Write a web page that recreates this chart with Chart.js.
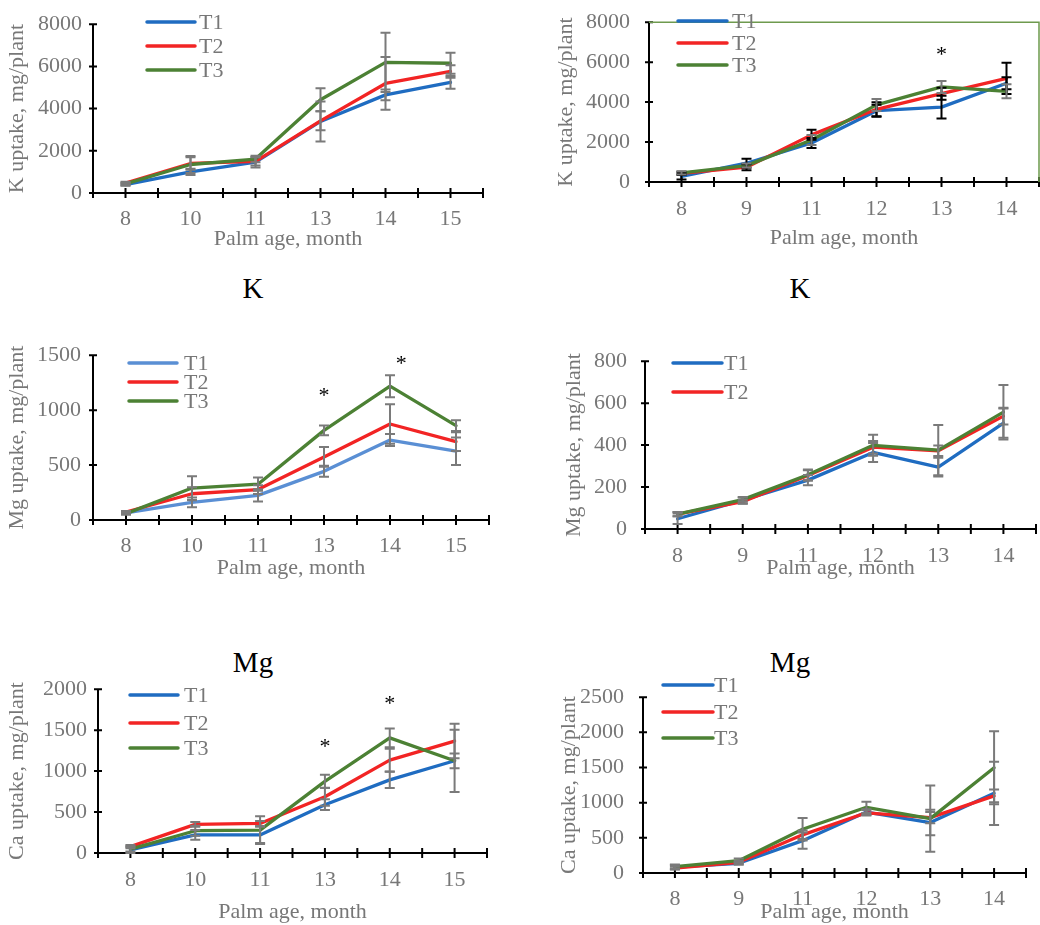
<!DOCTYPE html>
<html><head><meta charset="utf-8">
<script src="https://cdn.jsdelivr.net/npm/chart.js@4.4.0/dist/chart.umd.min.js"></script>
<style>
html,body{margin:0;padding:0;background:#fff;width:1040px;height:925px;overflow:hidden;position:relative}
canvas{position:absolute}
.lbl{position:absolute;font-family:'Liberation Serif','Times New Roman',serif;font-size:29px;color:#000;transform:translate(-50%,-50%);line-height:1;white-space:nowrap}
</style></head><body>
<div class="lbl" style="left:253px;top:288px">K</div>
<div class="lbl" style="left:800px;top:288px">K</div>
<div class="lbl" style="left:253px;top:662px">Mg</div>
<div class="lbl" style="left:790px;top:662px">Mg</div>
<script>
// ---------- data ----------
const seriesNames = ['T1','T2','T3'];
const monthsA = ['8','10','11','13','14','15'];
const monthsB = ['8','9','11','12','13','14'];
const xTitle = 'Palm age, month';

// K, left
const kA_T1 = [400, 1000, 1460, 3390, 4650, 5240];
const kA_T2 = [470, 1400, 1500, 3420, 5190, 5760];
const kA_T3 = [430, 1350, 1610, 4420, 6190, 6150];
const kA_E1 = [60, 150, 250, 950, 250, 300];
const kA_E2 = [60, 300, 200, 450, 1250, 300];
const kA_E3 = [60, 400, 150, 550, 1400, 500];
const kA_yTicks = [0, 2000, 4000, 6000, 8000];

// K, right
const kB_T1 = [280, 940, 1950, 3570, 3750, 4940];
const kB_T2 = [430, 740, 2360, 3640, 4420, 5190];
const kB_T3 = [460, 820, 2100, 3860, 4760, 4540];
const kB_E1 = [150, 230, 250, 300, 570, 300];
const kB_E2 = [80, 150, 250, 350, 300, 780];
const kB_E3 = [80, 100, 250, 300, 300, 350];
const kB_yTicks = [0, 2000, 4000, 6000, 8000];
const kB_stars = [[4, 6150]];

// Mg, left
const mgA_T1 = [64, 160, 224, 443, 728, 626];
const mgA_T2 = [73, 239, 277, 574, 874, 714];
const mgA_T3 = [58, 291, 326, 816, 1218, 859];
const mgA_E1 = [10, 45, 55, 50, 55, 125];
const mgA_E2 = [10, 60, 40, 90, 180, 85];
const mgA_E3 = [10, 108, 60, 45, 100, 50];
const mgA_yTicks = [0, 500, 1000, 1500];
const mgA_stars = [[3, 1090], [4.17, 1387]];

// Mg, right
const mgB_T1 = [49, 137, 233, 365, 295, 505];
const mgB_T2 = [71, 130, 255, 390, 373, 538];
const mgB_T3 = [71, 140, 259, 399, 376, 557];
const mgB_E1 = [25, 15, 25, 45, 45, 70];
const mgB_E2 = [10, 10, 25, 30, 25, 40];
const mgB_E3 = [10, 10, 25, 50, 120, 130];
const mgB_yTicks = [0, 200, 400, 600, 800];

// Ca, left
const caA_T1 = [39, 221, 221, 590, 893, 1126];
const caA_T2 = [78, 350, 361, 687, 1134, 1367];
const caA_T3 = [47, 272, 280, 874, 1406, 1126];
const caA_E1 = [40, 60, 100, 65, 100, 90];
const caA_E2 = [20, 30, 30, 110, 140, 210];
const caA_E3 = [30, 60, 170, 80, 115, 380];
const caA_yTicks = [0, 500, 1000, 1500, 2000];
const caA_stars = [[3, 1251], [4, 1766]];

// Ca, right
const caB_T1 = [83, 138, 460, 866, 718, 1133];
const caB_T2 = [69, 152, 543, 856, 787, 1096];
const caB_T3 = [92, 175, 622, 935, 773, 1496];
const caB_E1 = [30, 20, 115, 40, 180, 450];
const caB_E2 = [20, 20, 60, 40, 80, 90];
const caB_E3 = [30, 30, 160, 80, 470, 520];
const caB_yTicks = [0, 500, 1000, 1500, 2000, 2500];

// ---------- styles ----------
const BLUE = '#1f6cc1', LBLUE = '#5a8fd4', RED = '#f22424', GREEN = '#4c8134';
const GRAY = '#7a7a7a', TXT = '#777777';
const FONT = {family: "'Liberation Serif','Times New Roman',serif", size: 22};

const deco = {
  id: 'deco',
  beforeDatasetsDraw(chart, args, o) {
    const {ctx, chartArea: a, scales: {x, y}} = chart;
    ctx.save();
    ctx.strokeStyle = '#000'; ctx.lineWidth = 2;
    ctx.beginPath();
    ctx.moveTo(a.left, a.top); ctx.lineTo(a.left, a.bottom); ctx.lineTo(a.right, a.bottom);
    y.ticks.forEach(t => { const py = y.getPixelForValue(t.value); ctx.moveTo(a.left - 4, py); ctx.lineTo(a.left + 4, py); });
    const n = x.ticks.length;
    for (let k = 0; k <= 2 * n; k++) {
      const px = x.getPixelForValue(k / 2 - 0.5);
      ctx.moveTo(px, a.bottom - 5); ctx.lineTo(px, a.bottom + 5);
    }
    ctx.stroke();
    if (o.frame) {
      ctx.strokeStyle = o.frame; ctx.lineWidth = 1.5;
      ctx.beginPath(); ctx.moveTo(a.left, a.top); ctx.lineTo(a.right, a.top); ctx.lineTo(a.right, a.bottom); ctx.stroke();
    }
    ctx.restore();
  },
  afterDatasetsDraw(chart, args, o) {
    const {ctx, scales: {x, y}} = chart;
    ctx.save();
    chart.data.datasets.forEach((ds, i) => {
      if (!ds.err) return;
      ctx.strokeStyle = ds.errColor || GRAY; ctx.lineWidth = 2;
      ds.data.forEach((v, j) => {
        const e = ds.err[j]; if (!e) return;
        const px = x.getPixelForValue(j);
        const y1 = y.getPixelForValue(v + e), y2 = y.getPixelForValue(v - e);
        ctx.beginPath();
        ctx.moveTo(px, y1); ctx.lineTo(px, y2);
        ctx.moveTo(px - 5, y1); ctx.lineTo(px + 5, y1);
        ctx.moveTo(px - 5, y2); ctx.lineTo(px + 5, y2);
        ctx.stroke();
      });
    });
    ctx.restore();
  },
  afterDraw(chart, args, o) {
    const {ctx, scales: {x, y}} = chart;
    ctx.save();
    const lg = o.legend;
    chart.data.datasets.slice(0, lg.count).forEach((ds, i) => {
      const ly = lg.ys[i];
      ctx.strokeStyle = ds.borderColor; ctx.lineWidth = 3.5; ctx.lineCap = 'round';
      ctx.beginPath(); ctx.moveTo(lg.x0, ly); ctx.lineTo(lg.x1, ly); ctx.stroke();
      ctx.fillStyle = TXT; ctx.font = FONT.size + 'px ' + FONT.family;
      ctx.textBaseline = 'middle'; ctx.textAlign = 'left';
      ctx.fillText(ds.label, lg.tx, ly + 1);
    });
    (o.stars || []).forEach(s => {
      const px = x.getPixelForValue(s[0]), py = y.getPixelForValue(s[1]);
      ctx.fillStyle = '#000'; ctx.font = '22px ' + FONT.family;
      ctx.textAlign = 'center'; ctx.textBaseline = 'alphabetic';
      ctx.fillText('*', px, py + 2);
    });
    ctx.restore();
  }
};

function ds(label, data, err, color, errColor, order) {
  return {label, data, err, errColor, borderColor: color, backgroundColor: color, borderWidth: 3.3,
          pointRadius: 0, tension: 0, borderJoinStyle: 'round', borderCapStyle: 'round', order};
}

function panel(p) {
  const c = document.createElement('canvas');
  c.width = p.w; c.height = p.h;
  c.style.left = p.left + 'px'; c.style.top = p.top + 'px';
  c.style.width = p.w + 'px'; c.style.height = p.h + 'px';
  document.body.appendChild(c);
  const yt = p.yTicks;
  new Chart(c, {
    type: 'line',
    data: {labels: p.labels, datasets: p.sets},
    plugins: [deco],
    options: {
      responsive: false, animation: false, devicePixelRatio: 1,
      layout: {padding: {left: 0, top: p.padTop, right: p.padRight, bottom: 0}},
      plugins: {legend: {display: false}, tooltip: {enabled: false},
                deco: {legend: p.legend, stars: p.stars, frame: p.frame}},
      scales: {
        x: {type: 'category', offset: true,
            grid: {display: false, drawTicks: false}, border: {display: false},
            ticks: {color: TXT, font: FONT, padding: p.xLabPad, autoSkip: false, maxRotation: 0},
            title: {display: true, text: xTitle, color: TXT, font: FONT, padding: {top: 0, bottom: 0}},
            afterFit(s) { s.height = p.xH; }},
        y: {min: yt[0], max: yt[yt.length - 1],
            grid: {display: false, drawTicks: false}, border: {display: false},
            ticks: {stepSize: yt[1] - yt[0], color: TXT, font: FONT, padding: p.yLabPad,
                    callback: v => String(v)},
            title: {display: true, text: p.yTitle, color: TXT, font: FONT, padding: {top: p.yTitlePad, bottom: 0}},
            afterFit(s) { s.width = p.yW; }}
      }
    }
  });
}

function three(a, b, c, ea, eb, ec, c1, errCols) {
  errCols = errCols || [GRAY, GRAY, GRAY];
  return [ds(seriesNames[0], a, ea, c1 || BLUE, errCols[0], 2),
          ds(seriesNames[1], b, eb, RED, errCols[1], 1),
          ds(seriesNames[2], c, ec, GREEN, errCols[2], 0)];
}

panel({left: 0, top: 0, w: 500, h: 252, padTop: 19, padRight: 17, yW: 93, xH: 59,
  xLabPad: 13, yLabPad: 11, yTitlePad: 4, labels: monthsA, yTicks: kA_yTicks,
  yTitle: 'K uptake, mg/plant',
  sets: three(kA_T1, kA_T2, kA_T3, kA_E1, kA_E2, kA_E3),
  legend: {x0: 147, x1: 195, tx: 199, ys: [22, 46, 70], count: 3}});

panel({left: 520, top: -10, w: 520, h: 261, padTop: 19, padRight: 1, yW: 129, xH: 69,
  xLabPad: 14, yLabPad: 19, yTitlePad: 33, labels: monthsB, yTicks: kB_yTicks,
  yTitle: 'K uptake, mg/plant', frame: '#6e9a4e', stars: kB_stars,
  sets: three(kB_T1, kB_T2, kB_T3, kB_E1, kB_E2, kB_E3, null, ['#000', '#000', GRAY]),
  legend: {x0: 158, x1: 207, tx: 212, ys: [31, 53, 75], count: 3}});

panel({left: 0, top: 330, w: 500, h: 251, padTop: 18, padRight: 11, yW: 93, xH: 61,
  xLabPad: 13, yLabPad: 12, yTitlePad: 4, labels: monthsA, yTicks: mgA_yTicks,
  yTitle: 'Mg uptake, mg/plant', stars: mgA_stars,
  sets: three(mgA_T1, mgA_T2, mgA_T3, mgA_E1, mgA_E2, mgA_E3, LBLUE),
  legend: {x0: 129, x1: 177, tx: 184, ys: [33, 52, 71], count: 3}});

panel({left: 520, top: 330, w: 520, h: 251, padTop: 18, padRight: 4, yW: 125, xH: 52,
  xLabPad: 14, yLabPad: 18, yTitlePad: 41, labels: monthsB, yTicks: mgB_yTicks,
  yTitle: 'Mg uptake, mg/plant',
  sets: three(mgB_T1, mgB_T2, mgB_T3, mgB_E1, mgB_E2, mgB_E3),
  legend: {x0: 153, x1: 202, tx: 204, ys: [33, 62], count: 2}});

panel({left: 0, top: 665, w: 500, h: 260, padTop: 17, padRight: 13, yW: 98, xH: 72,
  xLabPad: 14, yLabPad: 11, yTitlePad: 4, labels: monthsA, yTicks: caA_yTicks,
  yTitle: 'Ca uptake, mg/plant', stars: caA_stars,
  sets: three(caA_T1, caA_T2, caA_T3, caA_E1, caA_E2, caA_E3),
  legend: {x0: 130, x1: 178, tx: 184, ys: [30, 58, 83], count: 3}});

panel({left: 520, top: 665, w: 520, h: 260, padTop: 27, padRight: 14, yW: 123, xH: 52,
  xLabPad: 13, yLabPad: 19, yTitlePad: 36, labels: monthsB, yTicks: caB_yTicks,
  yTitle: 'Ca uptake, mg/plant',
  sets: three(caB_T1, caB_T2, caB_T3, caB_E1, caB_E2, caB_E3),
  legend: {x0: 143, x1: 193, tx: 194, ys: [20, 47, 73], count: 3}});
</script>
</body></html>
